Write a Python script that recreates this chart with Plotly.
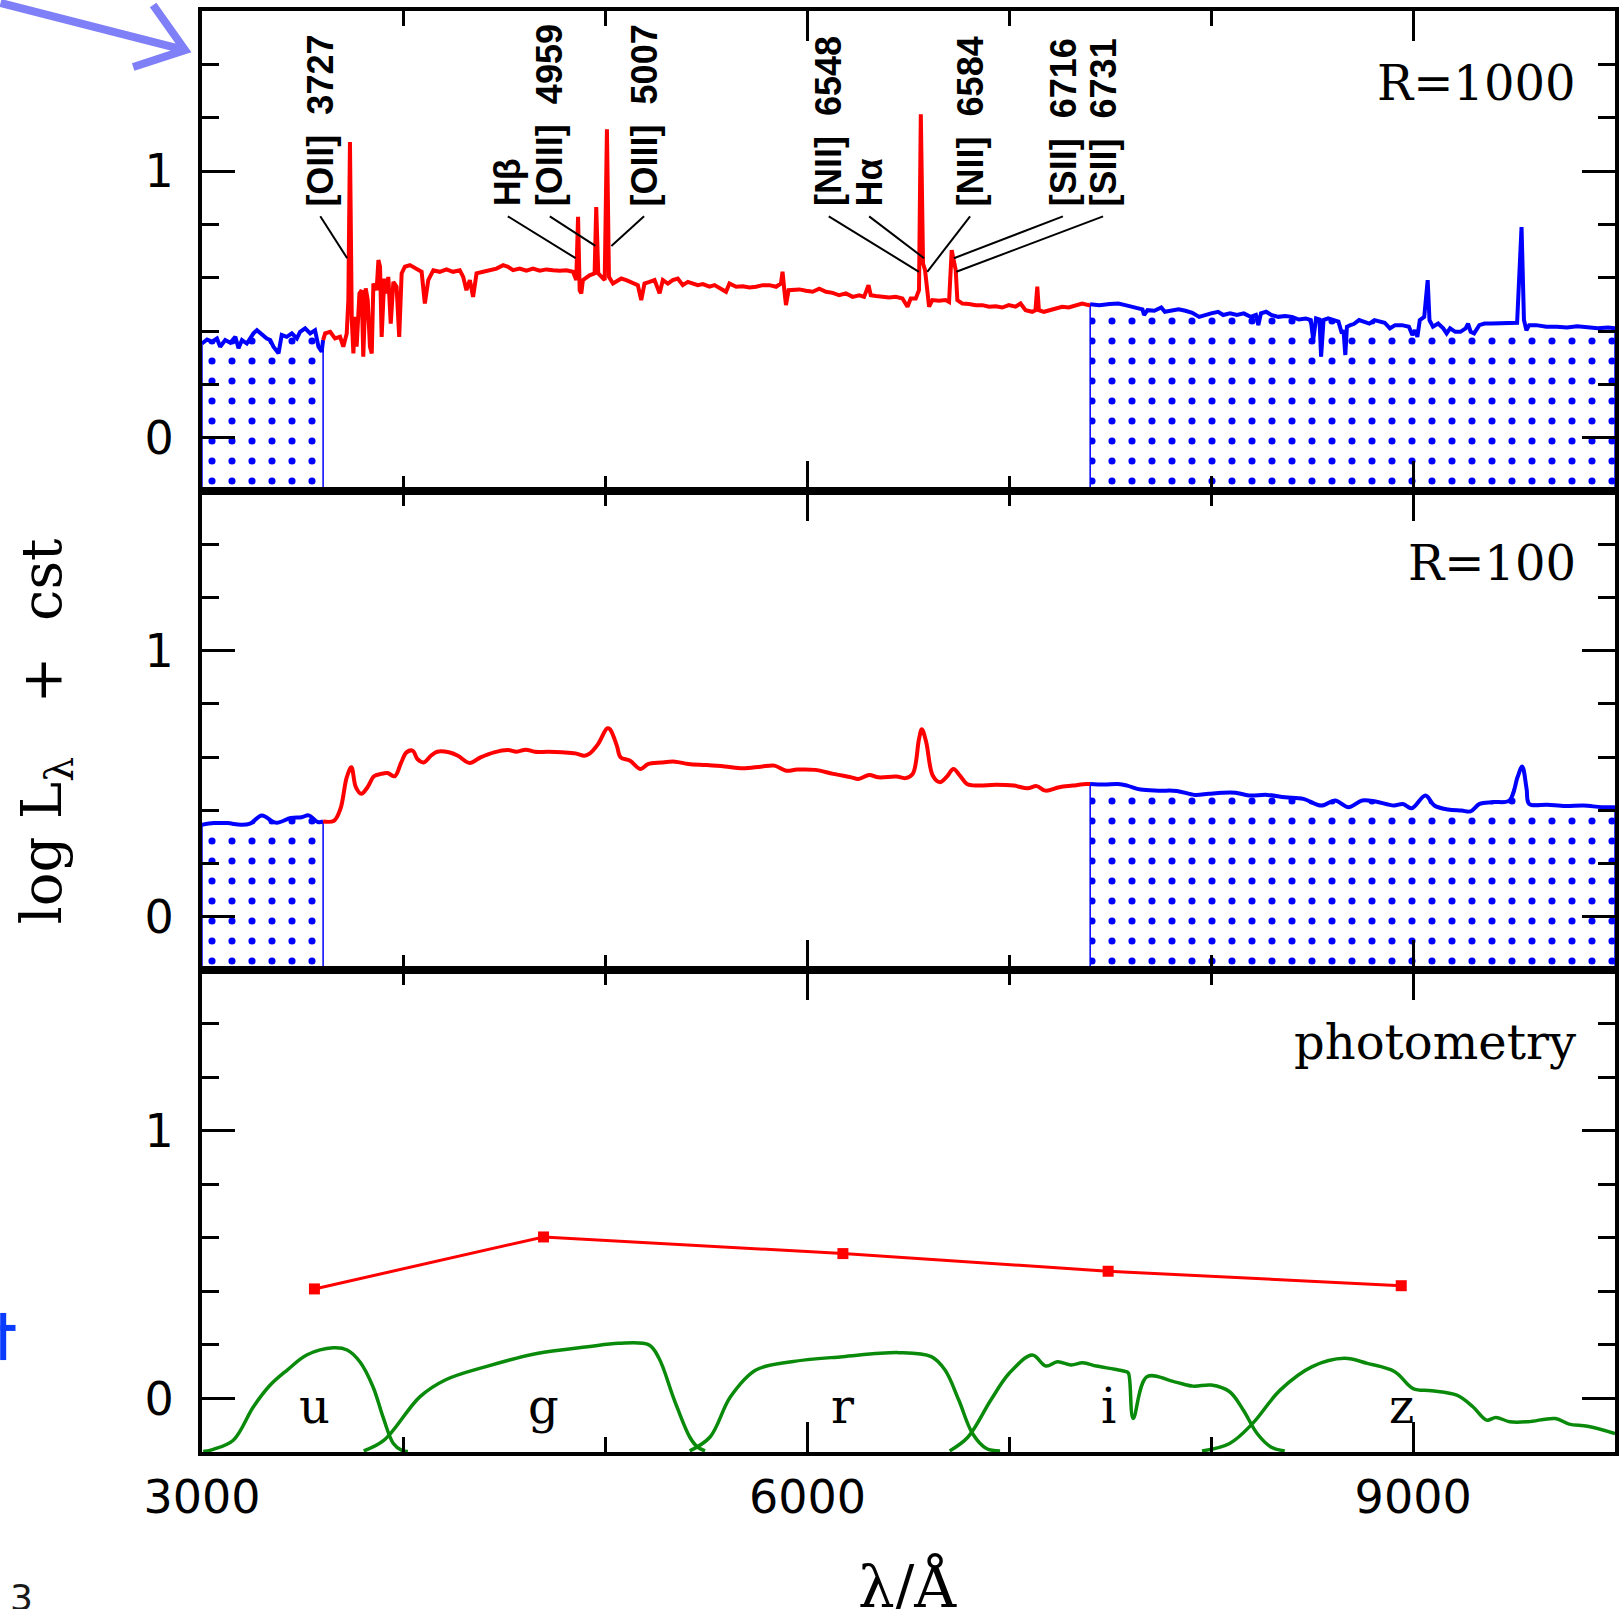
import plotly.graph_objects as go

# ------------------------------------------------------------------ data
# R=1000 spectrum (wavelength in Angstrom, log L + cst)
top_blue1_wl = [3000, 3025, 3049, 3074, 3090, 3115, 3140, 3165, 3181, 3198, 3222, 3255, 3272, 3297, 3321,
                3338, 3354, 3379, 3395, 3420, 3445, 3470, 3486, 3511, 3536, 3560, 3577, 3593, 3600]
top_blue1_val = [0.353, 0.368, 0.360, 0.372, 0.341, 0.366, 0.356, 0.378, 0.335, 0.366, 0.353, 0.391, 0.403, 0.385, 0.372,
                 0.366, 0.341, 0.316, 0.385, 0.378, 0.391, 0.372, 0.397, 0.410, 0.391, 0.403, 0.341, 0.322, 0.366]

top_red_wl = [3600, 3610, 3635, 3659, 3684, 3700, 3717, 3725, 3733, 3742, 3750, 3758, 3766, 3780, 3791, 3799, 3811,
              3821, 3832, 3841, 3849, 3865, 3874, 3882, 3890, 3903, 3915, 3923, 3935, 3948, 3964, 3977, 3989, 4005,
              4030, 4063, 4088, 4104, 4121, 4146, 4178, 4211, 4244, 4277, 4294, 4310, 4327, 4343, 4360, 4393, 4426,
              4459, 4492, 4516, 4541, 4574, 4607, 4640, 4673, 4706, 4739, 4772, 4805, 4838, 4854, 4863, 4871, 4879,
              4887, 4920, 4945, 4953, 4963, 4978, 4995, 5006, 5016, 5036, 5060, 5077, 5102, 5135, 5159, 5176, 5192,
              5217, 5242, 5267, 5283, 5308, 5332, 5357, 5382, 5407, 5431, 5456, 5481, 5514, 5539, 5563, 5596, 5613,
              5646, 5679, 5712, 5745, 5778, 5811, 5844, 5868, 5876, 5885, 5893, 5906, 5926, 5959, 5992, 6025, 6058,
              6091, 6124, 6157, 6190, 6223, 6256, 6280, 6302, 6313, 6338, 6371, 6404, 6437, 6470, 6495, 6511, 6536,
              6552, 6561, 6572, 6582, 6594, 6602, 6618, 6651, 6684, 6701, 6714, 6725, 6734, 6742, 6767, 6800, 6833,
              6866, 6899, 6932, 6964, 6997, 7030, 7055, 7080, 7113, 7129, 7138, 7146, 7171, 7195, 7228, 7261, 7294,
              7327, 7360, 7393, 7400]
top_red_val = [0.366, 0.391, 0.397, 0.372, 0.378, 0.341, 0.391, 0.516, 1.109, 0.441, 0.316, 0.453, 0.341, 0.541, 0.553,
               0.304, 0.560, 0.516, 0.341, 0.316, 0.578, 0.553, 0.666, 0.641, 0.378, 0.597, 0.541, 0.603, 0.428, 0.584,
               0.566, 0.378, 0.616, 0.641, 0.647, 0.634, 0.622, 0.503, 0.591, 0.628, 0.622, 0.631, 0.622, 0.628, 0.603,
               0.553, 0.591, 0.528, 0.616, 0.622, 0.628, 0.634, 0.647, 0.641, 0.628, 0.634, 0.626, 0.634, 0.626, 0.631,
               0.628, 0.626, 0.628, 0.622, 0.591, 0.828, 0.553, 0.541, 0.591, 0.609, 0.616, 0.865, 0.616, 0.603, 0.591,
               1.156, 0.603, 0.578, 0.591, 0.597, 0.591, 0.581, 0.572, 0.516, 0.578, 0.584, 0.591, 0.541, 0.591, 0.578,
               0.591, 0.597, 0.572, 0.584, 0.578, 0.572, 0.576, 0.566, 0.572, 0.563, 0.547, 0.578, 0.566, 0.568, 0.563,
               0.566, 0.572, 0.572, 0.566, 0.578, 0.622, 0.553, 0.497, 0.553, 0.553, 0.556, 0.551, 0.547, 0.559, 0.547,
               0.543, 0.534, 0.541, 0.528, 0.534, 0.528, 0.572, 0.534, 0.531, 0.528, 0.526, 0.528, 0.522, 0.491, 0.522,
               0.522, 0.553, 1.213, 0.653, 0.628, 0.528, 0.491, 0.516, 0.513, 0.516, 0.509, 0.703, 0.666, 0.628, 0.516,
               0.503, 0.501, 0.497, 0.497, 0.491, 0.493, 0.488, 0.497, 0.491, 0.503, 0.478, 0.472, 0.478, 0.566, 0.478,
               0.472, 0.478, 0.485, 0.491, 0.488, 0.497, 0.503, 0.497, 0.500]

top_blue2_wl = [7400, 7446, 7497, 7540, 7574, 7616, 7659, 7667, 7684, 7718, 7752, 7770, 7804, 7838, 7872, 7906, 7940,
                7965, 7999, 8034, 8059, 8093, 8127, 8161, 8195, 8221, 8233, 8246, 8272, 8297, 8332, 8366, 8400, 8434,
                8468, 8493, 8505, 8519, 8536, 8544, 8556, 8579, 8604, 8630, 8647, 8655, 8664, 8672, 8689, 8706, 8732,
                8757, 8783, 8808, 8834, 8859, 8885, 8911, 8945, 8979, 8996, 9009, 9021, 9033, 9055, 9072, 9081, 9098,
                9124, 9149, 9166, 9183, 9209, 9234, 9260, 9272, 9285, 9302, 9328, 9353, 9388, 9422, 9456, 9490, 9515,
                9537, 9549, 9561, 9575, 9609, 9660, 9711, 9762, 9813, 9864, 9915, 9966, 10000]
top_blue2_val = [0.500, 0.497, 0.501, 0.503, 0.497, 0.488, 0.481, 0.460, 0.478, 0.476, 0.488, 0.472, 0.478, 0.481,
                 0.476, 0.468, 0.453, 0.460, 0.466, 0.472, 0.460, 0.466, 0.460, 0.466, 0.453, 0.460, 0.422, 0.466,
                 0.472, 0.460, 0.453, 0.456, 0.453, 0.443, 0.447, 0.441, 0.366, 0.447, 0.443, 0.304, 0.441, 0.447,
                 0.441, 0.435, 0.391, 0.403, 0.310, 0.416, 0.422, 0.426, 0.441, 0.435, 0.428, 0.441, 0.435, 0.431,
                 0.410, 0.422, 0.422, 0.416, 0.385, 0.403, 0.378, 0.441, 0.453, 0.591, 0.441, 0.416, 0.428, 0.410,
                 0.391, 0.410, 0.397, 0.397, 0.410, 0.428, 0.397, 0.391, 0.422, 0.428, 0.428, 0.428, 0.428, 0.431,
                 0.431, 0.790, 0.441, 0.403, 0.422, 0.422, 0.416, 0.416, 0.413, 0.418, 0.413, 0.410, 0.413, 0.410]

# R=100 spectrum
mid_blue1_wl = [3000, 3059, 3126, 3193, 3238, 3296, 3350, 3372, 3440, 3493, 3529, 3574, 3600]
mid_blue1_val = [0.346, 0.352, 0.352, 0.346, 0.350, 0.381, 0.358, 0.353, 0.371, 0.374, 0.381, 0.356, 0.358]

mid_red_wl = [3600, 3654, 3686, 3717, 3740, 3762, 3789, 3820, 3852, 3887, 3919, 3955, 3986, 4013, 4044, 4067, 4098,
              4134, 4165, 4223, 4268, 4326, 4380, 4447, 4514, 4559, 4604, 4649, 4716, 4783, 4850, 4895, 4918, 4962,
              5007, 5021, 5055, 5074, 5119, 5173, 5209, 5276, 5343, 5410, 5500, 5589, 5679, 5769, 5836, 5894, 5948,
              6037, 6127, 6216, 6252, 6306, 6351, 6440, 6485, 6521, 6552, 6566, 6588, 6620, 6655, 6687, 6723, 6754,
              6790, 6843, 6933, 7022, 7090, 7135, 7179, 7247, 7314, 7381, 7400]
mid_red_val = [0.358, 0.361, 0.406, 0.524, 0.562, 0.487, 0.462, 0.487, 0.528, 0.537, 0.540, 0.528, 0.578, 0.618,
               0.624, 0.593, 0.580, 0.605, 0.620, 0.618, 0.605, 0.578, 0.599, 0.618, 0.627, 0.620, 0.628, 0.620,
               0.620, 0.618, 0.614, 0.605, 0.612, 0.649, 0.708, 0.705, 0.643, 0.599, 0.587, 0.555, 0.574, 0.580,
               0.583, 0.574, 0.570, 0.565, 0.558, 0.564, 0.568, 0.549, 0.553, 0.552, 0.537, 0.524, 0.518, 0.533,
               0.524, 0.527, 0.521, 0.537, 0.668, 0.705, 0.655, 0.531, 0.506, 0.524, 0.555, 0.531, 0.499, 0.493,
               0.496, 0.493, 0.483, 0.491, 0.474, 0.487, 0.493, 0.499, 0.499]

mid_blue2_wl = [7400, 7470, 7538, 7583, 7650, 7739, 7829, 7918, 7986, 8053, 8120, 8187, 8277, 8366, 8456, 8545,
                8613, 8680, 8747, 8814, 8904, 8949, 8993, 9061, 9105, 9172, 9240, 9284, 9329, 9396, 9477, 9517,
                9540, 9562, 9575, 9665, 9755, 9844, 9934, 10000]
mid_blue2_val = [0.499, 0.497, 0.499, 0.493, 0.478, 0.474, 0.473, 0.458, 0.462, 0.466, 0.466, 0.456, 0.458, 0.449,
                 0.443, 0.418, 0.437, 0.412, 0.437, 0.433, 0.418, 0.424, 0.408, 0.456, 0.418, 0.403, 0.399, 0.396,
                 0.424, 0.431, 0.437, 0.524, 0.565, 0.481, 0.424, 0.421, 0.416, 0.418, 0.412, 0.412]

# photometry
phot_band = ["u", "g", "r", "i", "z"]
phot_wl = [3557, 4692, 6175, 7489, 8941]
phot_val = [0.409, 0.603, 0.541, 0.475, 0.421]

# filter transmission curves (scaled, offset)
filt_u_wl = [3006, 3056, 3155, 3254, 3338, 3422, 3521, 3650, 3719, 3783, 3848, 3897, 3947, 3990, 4020]
filt_u_val = [-0.198, -0.190, -0.156, -0.032, 0.050, 0.106, 0.163, 0.189, 0.181, 0.136, 0.042, -0.070, -0.167, -0.194, -0.198]
filt_g_wl = [3801, 3902, 4079, 4205, 4407, 4659, 4911, 5063, 5214, 5264, 5340, 5416, 5454, 5492]
filt_g_val = [-0.196, -0.156, 0.006, 0.069, 0.119, 0.168, 0.193, 0.206, 0.200, 0.150, -0.006, -0.144, -0.181, -0.196]
filt_r_wl = [5416, 5517, 5618, 5744, 5921, 6173, 6454, 6613, 6681, 6749, 6817, 6886, 6954]
filt_r_val = [-0.196, -0.144, 0.006, 0.106, 0.137, 0.156, 0.171, 0.156, 0.106, -0.006, -0.131, -0.187, -0.196]
filt_i_wl = [6704, 6795, 6908, 6999, 7113, 7181, 7238, 7306, 7363, 7431, 7522, 7579, 7590, 7613, 7681, 7818, 7909,
             8000, 8091, 8159, 8227, 8295, 8364]
filt_i_val = [-0.196, -0.144, -0.006, 0.094, 0.162, 0.121, 0.137, 0.125, 0.133, 0.121, 0.109, 0.100, 0.094, -0.075,
              0.081, 0.062, 0.046, 0.050, 0.025, -0.044, -0.131, -0.181, -0.196]
filt_z_wl = [7954, 8091, 8204, 8341, 8500, 8659, 8773, 8909, 9000, 9091, 9216, 9296, 9364, 9410, 9478, 9569, 9705,
             9773, 9864, 10000]
filt_z_val = [-0.196, -0.168, -0.094, 0.031, 0.119, 0.150, 0.131, 0.100, 0.037, 0.029, 0.012, -0.031, -0.081,
              -0.071, -0.087, -0.087, -0.075, -0.096, -0.104, -0.131]

# emission line labels: text, label wavelength, pointer wavelength, pointer level
line_labels = ["[OII]\u00a0\u00a03727", "H\u03b2", "[OIII]\u00a0\u00a04959", "[OIII]\u00a0\u00a05007",
               "[NII]\u00a0\u00a06548", "H\u03b1", "[NII]\u00a0\u00a06584", "[SII]\u00a0\u00a06716",
               "[SII]\u00a0\u00a06731"]
label_wl = [3586, 4515, 4723, 5190, 6105, 6305, 6805, 7265, 7464]
pointer_wl = [3719, 4851, 4949, 5028, 6552, 6577, 6593, 6725, 6737]
pointer_val = [0.673, 0.673, 0.719, 0.719, 0.622, 0.673, 0.622, 0.673, 0.622]

panel_titles = ["R=1000", "R=100", "photometry"]

# ------------------------------------------------------------------ figure
XR = [3000, 10000]
YR = [-0.2, 1.6]
RED, BLUE, GREEN = "#ff0000", "#0000ff", "#0a8a0a"
SERIF = "DejaVu Serif"
SANS = "DejaVu Sans"

fig = go.Figure()
# panels: 1 = top (x/y), 2 = middle (x2/y2), 3 = bottom (x3/y3)
ax = {1: ("x", "y"), 2: ("x2", "y2"), 3: ("x3", "y3")}


def add_fill(wl, val, p):
    xa, ya = ax[p]
    fig.add_trace(go.Scatter(
        x=[wl[0]] + wl + [wl[-1]], y=[YR[0]] + val + [YR[0]],
        mode="lines", fill="toself", fillcolor="rgba(0,0,0,0)",
        fillpattern=dict(shape=".", fgcolor=BLUE, bgcolor="rgba(0,0,0,0)", fgopacity=1,
                         size=20, solidity=0.1, fillmode="overlay"),
        line=dict(color=BLUE, width=1.5), xaxis=xa, yaxis=ya,
        hoverinfo="skip", showlegend=False))


def add_line(wl, val, p, color, width=4, shape="linear"):
    xa, ya = ax[p]
    fig.add_trace(go.Scatter(x=wl, y=val, mode="lines",
                             line=dict(color=color, width=width, shape=shape),
                             xaxis=xa, yaxis=ya, showlegend=False))


# top panel
add_fill(top_blue1_wl, top_blue1_val, 1)
add_fill(top_blue2_wl, top_blue2_val, 1)
add_line(top_blue1_wl, top_blue1_val, 1, BLUE)
add_line(top_red_wl, top_red_val, 1, RED)
add_line(top_blue2_wl, top_blue2_val, 1, BLUE)

# middle panel
add_fill(mid_blue1_wl, mid_blue1_val, 2)
add_fill(mid_blue2_wl, mid_blue2_val, 2)
add_line(mid_blue1_wl, mid_blue1_val, 2, BLUE, shape="spline")
add_line(mid_red_wl, mid_red_val, 2, RED, shape="spline")
add_line(mid_blue2_wl, mid_blue2_val, 2, BLUE, shape="spline")

# bottom panel
for fw, fv in [(filt_u_wl, filt_u_val), (filt_g_wl, filt_g_val), (filt_r_wl, filt_r_val),
               (filt_i_wl, filt_i_val), (filt_z_wl, filt_z_val)]:
    add_line(fw, fv, 3, GREEN, width=3.5, shape="spline")
fig.add_trace(go.Scatter(x=phot_wl, y=phot_val, mode="lines+markers",
                         line=dict(color=RED, width=3),
                         marker=dict(symbol="square", size=11, color=RED),
                         xaxis="x3", yaxis="y3", showlegend=False))

# ------------------------------------------------------------------ axes
doms = {1: [0.66690, 1.0], 2: [0.33449, 0.66690], 3: [0.0, 0.33449]}
for p in (1, 2, 3):
    sfx = "" if p == 1 else str(p)
    fig.layout["xaxis" + sfx] = dict(
        range=XR, domain=[0, 1], anchor="y" + sfx,
        showline=True, linewidth=4, linecolor="black", mirror="allticks",
        ticks="inside", ticklen=30, tickwidth=3, tickcolor="black",
        tick0=3000, dtick=3000, tickformat="d",
        minor=dict(ticks="inside", ticklen=15, tickwidth=3, tickcolor="black", tick0=3000, dtick=1000),
        showgrid=False, zeroline=False,
        showticklabels=(p == 3), ticklabelstandoff=2,
        tickfont=dict(family=SANS, size=46, color="black"),
        matches=None if p == 3 else "x3")
    fig.layout["yaxis" + sfx] = dict(
        range=YR, domain=doms[p], anchor="x" + sfx,
        showline=True, linewidth=4, linecolor="black", mirror="allticks",
        ticks="inside", ticklen=33, tickwidth=3, tickcolor="black",
        tick0=0, dtick=1, tickformat="d",
        minor=dict(ticks="inside", ticklen=17, tickwidth=3, tickcolor="black", tick0=0, dtick=0.2),
        showgrid=False, zeroline=False, ticklabelstandoff=15,
        tickfont=dict(family=SANS, size=46, color="black"))

# ------------------------------------------------------------------ annotations
ann = []
# panel titles
for p, t in zip((1, 2, 3), panel_titles):
    sfx = "" if p == 1 else str(p)
    ann.append(dict(text=t, xref="paper", yref="y" + sfx, x=0.974, y=1.33,
                    xanchor="right", yanchor="middle", showarrow=False,
                    font=dict(family=SERIF, size=48, color="black")))
# band labels
for b, w in zip(phot_band, phot_wl):
    ann.append(dict(text=b, xref="x3", yref="y3", x=w, y=-0.03, xanchor="center", yanchor="middle",
                    showarrow=False, font=dict(family=SERIF, size=48, color="black")))
# emission-line labels and pointers
shapes = []
for t, lw, pw, pv in zip(line_labels, label_wl, pointer_wl, pointer_val):
    ann.append(dict(text="<b>" + t + "</b>", xref="x", yref="y", x=lw, y=0.86, textangle=-90,
                    xanchor="center", yanchor="bottom", showarrow=False,
                    font=dict(family="Liberation Sans", size=36, color="black")))
    shapes.append(dict(type="line", xref="x", yref="y", x0=lw, y0=0.83, x1=pw, y1=pv,
                       line=dict(color="black", width=2)))

# axis titles
ann.append(dict(text="\u03bb/\u00c5", xref="paper", yref="paper", x=0.4996, y=-0.069,
                xanchor="center", yanchor="top", showarrow=False,
                font=dict(family=SERIF, size=58, color="black")))
ann.append(dict(text="log\u00a0L<sub>\u03bb</sub>\u00a0\u00a0\u00a0+\u00a0\u00a0cst", xref="paper", yref="paper",
                x=-0.111, y=0.5003, textangle=-90, xanchor="center", yanchor="middle", showarrow=False,
                font=dict(family=SERIF, size=56, color="black")))

# stray slide elements around the figure
ann.append(dict(text="3", xref="paper", yref="paper", x=-0.1376, y=-0.0854, xanchor="left", yanchor="top",
                showarrow=False, font=dict(family=SANS, size=36, color="#1a1a1a")))
shapes.append(dict(type="path", xref="paper", yref="paper",
                   path="M -0.1426,1.0056 L -0.0120,0.9729 M -0.0346,1.0042 L -0.0120,0.9729 L -0.0487,0.9611",
                   line=dict(color="#7f7ff8", width=8)))
shapes.append(dict(type="line", xref="paper", yref="paper", x0=-0.1407, x1=-0.1407, y0=0.0638, y1=0.0965,
                   line=dict(color="#0a3cff", width=6)))
shapes.append(dict(type="line", xref="paper", yref="paper", x0=-0.1426, x1=-0.1320, y0=0.0861, y1=0.0861,
                   line=dict(color="#0a3cff", width=6)))

fig.update_layout(
    width=1621, height=1609,
    margin=dict(l=202, r=2, t=11, b=157),
    paper_bgcolor="white", plot_bgcolor="white",
    showlegend=False, annotations=ann, shapes=shapes)

fig.write_html("out.html")
